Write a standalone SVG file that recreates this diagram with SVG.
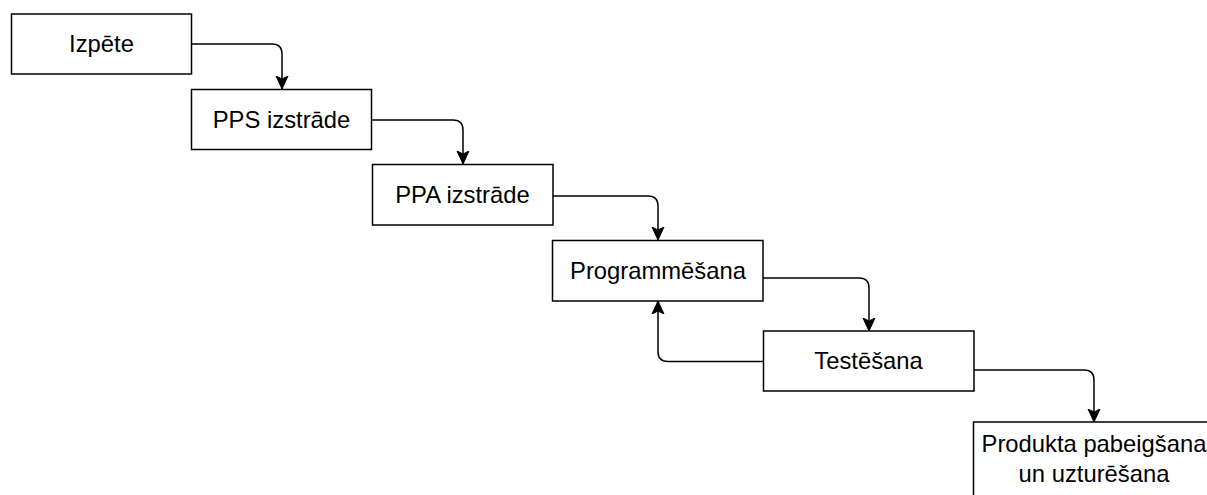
<svg xmlns="http://www.w3.org/2000/svg" width="1207" height="495" viewBox="0 0 1207 495">
<style>
.box{fill:#fff;stroke:#000;stroke-width:1.5}
.lbl{font-family:"Liberation Sans",Arial,Helvetica,sans-serif;font-size:23.8px;fill:#000;text-anchor:middle}
.edge{fill:none;stroke:#000;stroke-width:1.5}
</style>
<defs>
<marker id="arr" markerUnits="userSpaceOnUse" markerWidth="14" markerHeight="14" viewBox="0 0 14 14" refX="13" refY="7" orient="auto">
<path d="M0,1 L13,7 L0,13 L3,7 Z" fill="#000" stroke="#000" stroke-width="1"/>
</marker>
</defs>
<rect width="1207" height="495" fill="#fff"/>
<g id="connectors">
<path class="edge" marker-end="url(#arr)" d="M191.5,44 H272 Q282,44 282,54 V89"/>
<path class="edge" marker-end="url(#arr)" d="M371.5,120 H453 Q463,120 463,130 V164"/>
<path class="edge" marker-end="url(#arr)" d="M553,196 H648 Q658,196 658,206 V240"/>
<path class="edge" marker-end="url(#arr)" d="M763,278 H859 Q869,278 869,288 V331"/>
<path class="edge" marker-end="url(#arr)" d="M763,361.5 H668 Q658,361.5 658,351.5 V301"/>
<path class="edge" marker-end="url(#arr)" d="M974,370 H1084 Q1094,370 1094,380 V422"/>
</g>
<g id="n1"><rect class="box" x="11.5" y="14" width="180" height="60"/><text class="lbl" x="101.5" y="52">Izpēte</text></g>
<g id="n2"><rect class="box" x="191.5" y="89.5" width="180" height="60"/><text class="lbl" x="281.5" y="127.5">PPS izstrāde</text></g>
<g id="n3"><rect class="box" x="372.5" y="164.5" width="180.5" height="60.5"/><text class="lbl" x="462.5" y="203">PPA izstrāde</text></g>
<g id="n4"><rect class="box" x="552.5" y="240.5" width="210.5" height="60.5"/><text class="lbl" x="658" y="278.5">Programmēšana</text></g>
<g id="n5"><rect class="box" x="763.5" y="331" width="210.5" height="60"/><text class="lbl" x="868.5" y="369">Testēšana</text></g>
<g id="n6"><rect class="box" x="973.5" y="422" width="242" height="80"/><text class="lbl" x="1094" y="452">Produkta pabeigšana</text><text class="lbl" x="1094" y="482">un uzturēšana</text></g>
</svg>
